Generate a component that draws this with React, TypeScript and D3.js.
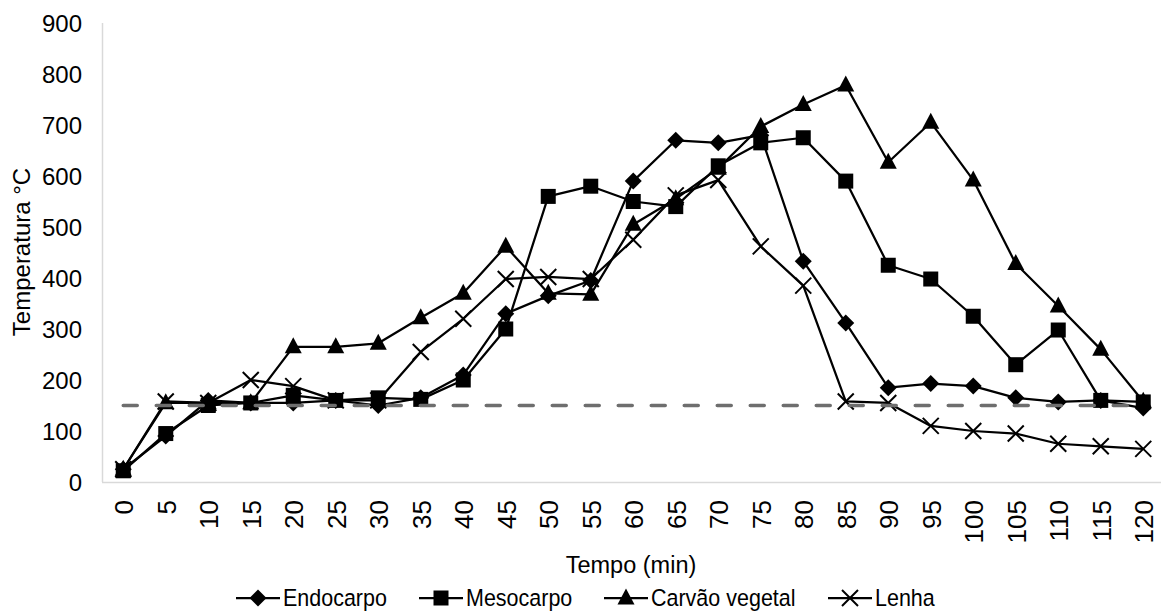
import React from "react";
import * as d3 from "d3";

const tempos = ["0","5","10","15","20","25","30","35","40","45","50","55","60","65","70","75","80","85","90","95","100","105","110","115","120"];
const endocarpo = [25,90,160,155,155,160,150,165,210,330,365,395,590,670,665,680,433,312,185,193,188,165,157,160,145];
const mesocarpo = [22,95,150,155,170,160,165,162,200,300,560,580,550,540,620,665,675,590,425,398,325,230,298,160,157];
const carvao = [25,155,155,155,265,265,272,322,370,462,370,368,505,555,615,697,740,778,627,705,592,428,345,260,158];
const lenha = [25,158,155,200,188,160,160,255,320,398,402,398,475,562,592,462,385,158,155,110,100,95,75,70,65];
const limiar = [150,150,150,150,150,150,150,150,150,150,150,150,150,150,150,150,150,150,150,150,150,150,150,150,150];
const yTicks = [0,100,200,300,400,500,600,700,800,900];

const seriesNames = ["Endocarpo", "Mesocarpo", "Carvão vegetal", "Lenha"];
const markerTypes = ["diamond", "square", "triangle", "x"];

const W = 1161, H = 613;
const x = d3.scalePoint<string>().domain(tempos).range([102, 1164.5]).padding(0.5);
const y = d3.scaleLinear().domain([0, 900]).range([482, 23]);

const FONT = "'Liberation Sans', Arial, sans-serif";

function Marker({ type, cx, cy }: { type: string; cx: number; cy: number }) {
  if (type === "diamond") {
    const r = 8.5;
    return <path d={`M${cx},${cy - r}L${cx + r},${cy}L${cx},${cy + r}L${cx - r},${cy}Z`} fill="#000" />;
  }
  if (type === "square") {
    const s = 15;
    return <rect x={cx - s / 2} y={cy - s / 2} width={s} height={s} fill="#000" />;
  }
  if (type === "triangle") {
    const w = 17, h = 16;
    return <path d={`M${cx},${cy - h * 0.6}L${cx + w / 2},${cy + h * 0.4}L${cx - w / 2},${cy + h * 0.4}Z`} fill="#000" />;
  }
  const r = 8;
  return (
    <path d={`M${cx - r},${cy - r}L${cx + r},${cy + r}M${cx - r},${cy + r}L${cx + r},${cy - r}`} stroke="#000" strokeWidth={2} fill="none" />
  );
}

export default function App() {
  const data = [endocarpo, mesocarpo, carvao, lenha];
  const line = d3.line<number>().x((_, i) => x(tempos[i]) as number).y((d) => y(d));
  const legendX = [236, 419, 604, 828];
  const legLen = 44;
  return (
    <svg width={W} height={H} style={{ position: "absolute", left: 0, top: 0, background: "#fff" }} fontFamily={FONT}>
      <rect width={W} height={H} fill="#fff" />
      <line x1={102.5} y1={23} x2={102.5} y2={482} stroke="#d9d9d9" strokeWidth={1.5} />
      <line x1={102} y1={482.5} x2={W} y2={482.5} stroke="#d9d9d9" strokeWidth={1.5} />
      {yTicks.map((t) => (
        <text key={t} x={82} y={y(t)} textAnchor="end" dominantBaseline="central" fontSize={24} fill="#000">{t}</text>
      ))}
      {tempos.map((t) => (
        <text key={t} transform={`translate(${(x(t) as number) + 1},500) rotate(-90)`} textAnchor="end" dominantBaseline="central" fontSize={26} fill="#000">{t}</text>
      ))}
      <text transform="translate(21,252) rotate(-90)" textAnchor="middle" dominantBaseline="central" fontSize={24} fill="#000">Temperatura °C</text>
      <text x={631} y={565} textAnchor="middle" dominantBaseline="central" fontSize={23.5} fill="#000">Tempo (min)</text>
      {data.map((vals, si) => (
        <g key={si}>
          <path d={line(vals) || ""} fill="none" stroke="#000" strokeWidth={2.25} strokeLinejoin="round" />
          {vals.map((v, i) => (
            <Marker key={i} type={markerTypes[si]} cx={x(tempos[i]) as number} cy={y(v)} />
          ))}
        </g>
      ))}
      <path d={line(limiar) || ""} fill="none" stroke="#6e6e6e" strokeWidth={3.5} strokeLinecap="round" strokeDasharray="14 19" />
      {seriesNames.map((n, i) => (
        <g key={n}>
          <line x1={legendX[i]} x2={legendX[i] + legLen} y1={598} y2={598} stroke="#000" strokeWidth={2.25} />
          <Marker type={markerTypes[i]} cx={legendX[i] + legLen / 2} cy={598} />
          <text transform={`translate(${legendX[i] + legLen + 3},598) scale(1,1.12)`} dominantBaseline="central" fontSize={21.5} fill="#000">{n}</text>
        </g>
      ))}
    </svg>
  );
}
